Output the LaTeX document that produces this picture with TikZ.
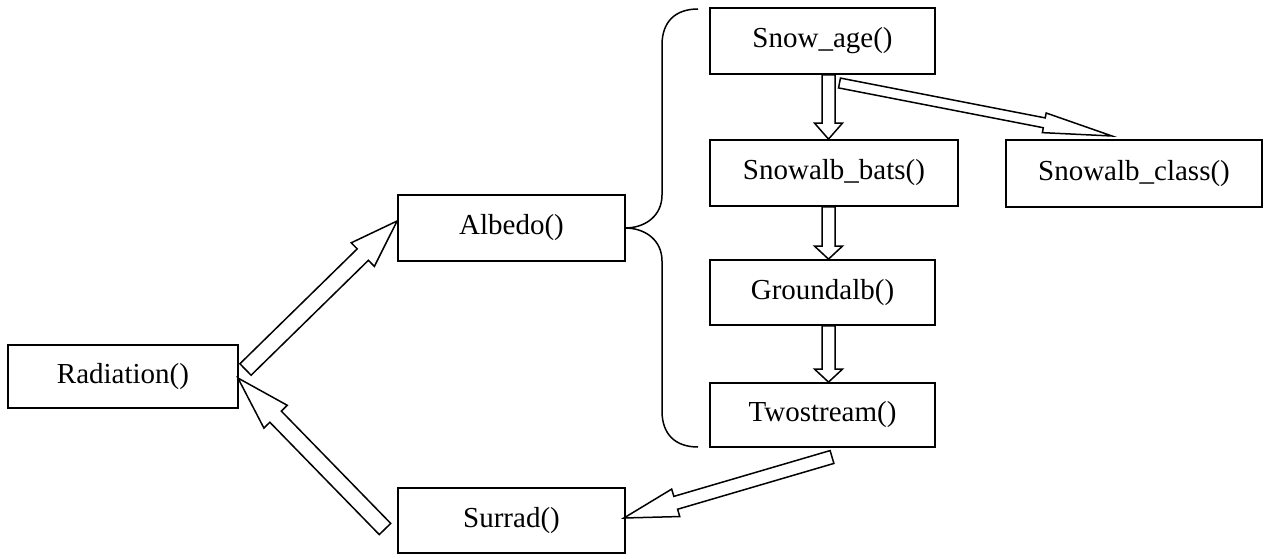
\documentclass[tikz,border=0pt]{standalone}
\usepackage{fontspec}
\setmainfont{Liberation Serif}
\usetikzlibrary{calc}
\tikzset{
  box/.style={draw, line width=1.8pt, rectangle, inner sep=0pt, font=\fontsize{29}{34}\selectfont},
  arr/.style={draw, line width=1.5pt, line join=miter},
  brace/.style={draw, line width=1.5pt},
}
% #1 start, #2 tip, #3 shaft half width, #4 head half width, #5 head length
\newcommand\blockarr[5]{%
  \coordinate (ba-h) at ($(#2)!#5!(#1)$);
  \path[arr] ($(#1)!#3!90:(#2)$) -- ($(ba-h)!#3!-90:(#1)$) -- ($(ba-h)!#4!-90:(#1)$) -- (#2)
    -- ($(ba-h)!#4!90:(#1)$) -- ($(ba-h)!#3!90:(#1)$) -- ($(#1)!#3!-90:(#2)$) -- cycle;}
\begin{document}
\begin{tikzpicture}[x=1pt,y=-1pt]
\useasboundingbox (0,0) rectangle (1270,559);
% boxes
\node[box, minimum width=230pt, minimum height=63pt] (rad) at (123,376.5) {Radiation()};
\node[box, minimum width=227pt, minimum height=66pt] (alb) at (511.5,228) {Albedo()};
\node[box, minimum width=225pt, minimum height=66pt] (snowage) at (822.5,41) {Snow\_age()};
\node[box, minimum width=248pt, minimum height=66pt] (bats) at (834,173) {Snowalb\_bats()};
\node[box, minimum width=256pt, minimum height=67pt] (class) at (1134,173.5) {Snowalb\_class()};
\node[box, minimum width=225pt, minimum height=65pt] (ground) at (822.5,292.5) {Groundalb()};
\node[box, minimum width=225pt, minimum height=64pt] (two) at (822.5,415) {Twostream()};
\node[box, minimum width=227pt, minimum height=65pt] (surrad) at (511.5,520.5) {Surrad()};
% brace
\path[brace] (698,9) .. controls (675,9) and (662,22) .. (662,45) -- (662,195)
  .. controls (662,216) and (645,228) .. (625,228)
  .. controls (645,228) and (662,240) .. (662,261) -- (662,411)
  .. controls (662,434) and (675,447) .. (698,447);
% arrow end points
\coordinate (a1s) at (245.5,369.5);
\coordinate (a1e) at ([yshift=7pt]alb.west);
\coordinate (a2s) at (385,529);
\coordinate (a2e) at ([xshift=-1pt,yshift=-1.5pt]rad.east);
\coordinate (a3s) at (832,457);
\coordinate (a3e) at ([xshift=-2pt,yshift=2.5pt]surrad.east);
\coordinate (a4s) at (839.5,83);
\coordinate (a4e) at (1112,136);
\coordinate (v1s) at (snowage.south -| 828.5,0);
\coordinate (v1e) at (bats.north -| 828.5,0);
\coordinate (v2s) at (bats.south -| 828.5,0);
\coordinate (v2e) at (ground.north -| 828.5,0);
\coordinate (v3s) at (ground.south -| 828.5,0);
\coordinate (v3e) at (two.north -| 828.5,0);
% arrows
\blockarr{a1s}{a1e}{8pt}{16.5pt}{48pt}
\blockarr{a2s}{a2e}{8pt}{16.3pt}{54pt}
\blockarr{a3s}{a3e}{6.7pt}{14.3pt}{54pt}
\blockarr{a4s}{a4e}{5pt}{10pt}{69pt}
\blockarr{v1s}{v1e}{6.5pt}{14pt}{16pt}
\blockarr{v2s}{v2e}{6.5pt}{14pt}{13pt}
\blockarr{v3s}{v3e}{6.5pt}{14pt}{13pt}
\end{tikzpicture}
\end{document}
